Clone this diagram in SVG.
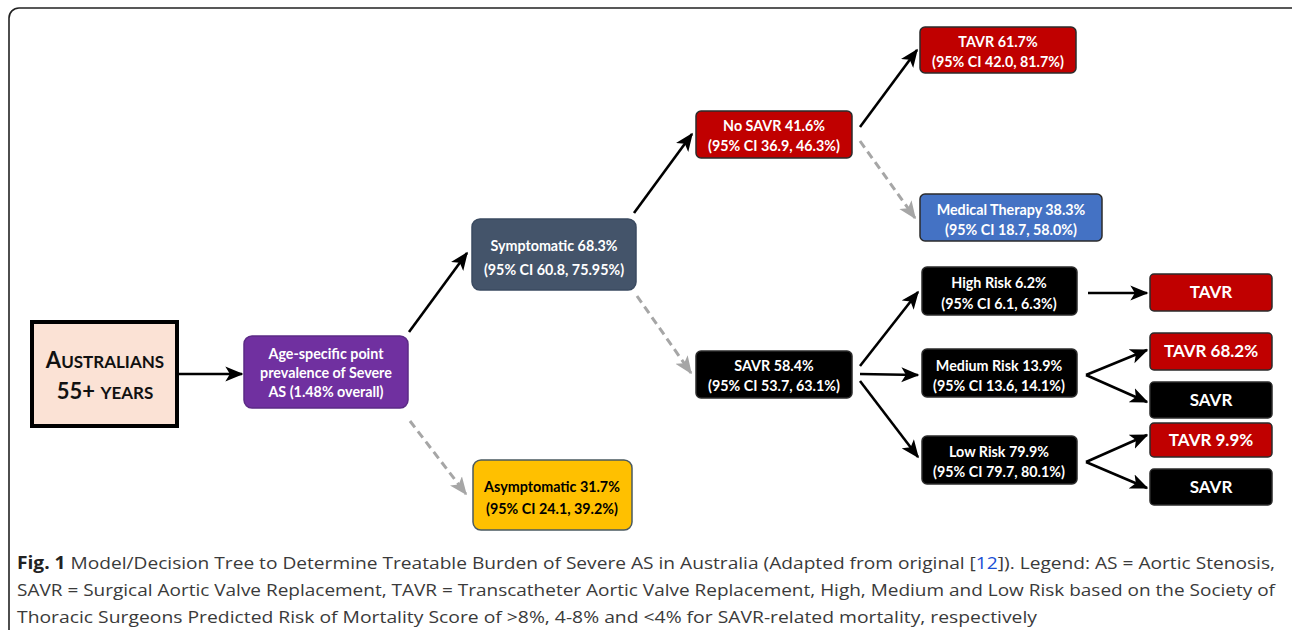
<svg xmlns="http://www.w3.org/2000/svg" width="1292" height="630" viewBox="0 0 1292 630">
<style>
.nt{font-family:Lato,"Open Sans","Liberation Sans",sans-serif;font-weight:bold;font-size:14.3px;fill:#fff;text-anchor:middle}
.big{font-size:17px}
.dk{fill:#000}
.box{stroke:#2b2b2b;stroke-width:1.5}
.sol{stroke:#000;stroke-width:2.6;fill:none;marker-end:url(#ah)}
.dash{stroke:#a6a6a6;stroke-width:3;fill:none;stroke-dasharray:8 5;marker-end:url(#ahg)}
.cap{font-family:"Open Sans","Liberation Sans",sans-serif;font-size:17px;fill:#3a3a3a}
</style>
<defs>
<marker id="ah" viewBox="0 0 12 10" refX="11" refY="5" markerWidth="7" markerHeight="6" orient="auto" markerUnits="strokeWidth">
<path d="M0,0 L12,5 L0,10 L3,5 z" fill="#000"/>
</marker>
<marker id="ahg" viewBox="0 0 12 10" refX="11" refY="5" markerWidth="6" markerHeight="5.5" orient="auto" markerUnits="strokeWidth">
<path d="M0,0 L12,5 L0,10 L3,5 z" fill="#a6a6a6"/>
</marker>
</defs>
<rect width="1292" height="630" fill="#fff"/>
<rect x="9" y="8" width="1300" height="640" rx="10" fill="none" stroke="#222" stroke-width="1.6"/>

<g id="connectors">
<line class="sol" x1="178" y1="374" x2="242" y2="374"/>
<line class="sol" x1="409" y1="332" x2="467" y2="253"/>
<line class="dash" x1="410" y1="421" x2="466" y2="494"/>
<line class="sol" x1="634" y1="213" x2="692" y2="134"/>
<line class="dash" x1="637" y1="296" x2="691" y2="373"/>
<line class="sol" x1="860" y1="127" x2="917" y2="50"/>
<line class="dash" x1="860" y1="141" x2="915" y2="218"/>
<line class="sol" x1="860" y1="366" x2="918" y2="292"/>
<line class="sol" x1="860" y1="374" x2="918" y2="375"/>
<line class="sol" x1="860" y1="381" x2="918" y2="457"/>
<line class="sol" x1="1088" y1="293" x2="1147" y2="293"/>
<line class="sol" x1="1086" y1="375" x2="1147" y2="350"/>
<line class="sol" x1="1086" y1="375" x2="1147" y2="402"/>
<line class="sol" x1="1086" y1="462" x2="1147" y2="435"/>
<line class="sol" x1="1086" y1="462" x2="1147" y2="488"/>
</g>

<g id="australians">
<rect x="32" y="322" width="145" height="104" fill="#fbe2d5" stroke="#000" stroke-width="4"/>
<text x="105" y="368" text-anchor="middle" font-family="Lato,'Open Sans',sans-serif" font-weight="bold" fill="#111"><tspan font-size="22">A</tspan><tspan font-size="17">USTRALIANS</tspan></text>
<text x="105" y="399" text-anchor="middle" font-family="Lato,'Open Sans',sans-serif" font-weight="bold" fill="#111"><tspan font-size="22">55+ </tspan><tspan font-size="17">YEARS</tspan></text>
</g>

<g id="prevalence">
<rect x="244" y="336" width="164" height="72" rx="8" fill="#7030a0" stroke="#5b2a85" stroke-width="1.5"/>
<text class="nt" x="326" y="359">Age-specific point</text>
<text class="nt" x="326" y="378">prevalence of Severe</text>
<text class="nt" x="326" y="397">AS (1.48% overall)</text>
</g>

<g id="symptomatic">
<rect x="472" y="219" width="164" height="71" rx="8" fill="#44546a" stroke="#3a4a60" stroke-width="1.5"/>
<text class="nt" x="554" y="251">Symptomatic 68.3%</text>
<text class="nt" x="554" y="275">(95% CI 60.8, 75.95%)</text>
</g>

<g id="asymptomatic">
<rect x="473" y="460" width="159" height="70" rx="8" fill="#ffc000" stroke="#4a5a60" stroke-width="1.5"/>
<text class="nt dk" x="552" y="492">Asymptomatic 31.7%</text>
<text class="nt dk" x="552" y="514">(95% CI 24.1, 39.2%)</text>
</g>

<g id="nosavr">
<rect x="696" y="111" width="156" height="47" rx="5" fill="#c00000" class="box"/>
<text class="nt" x="774" y="131">No SAVR 41.6%</text>
<text class="nt" x="774" y="151">(95% CI 36.9, 46.3%)</text>
</g>

<g id="savr584">
<rect x="696" y="351" width="156" height="47" rx="5" fill="#000" class="box"/>
<text class="nt" x="774" y="371">SAVR 58.4%</text>
<text class="nt" x="774" y="391">(95% CI 53.7, 63.1%)</text>
</g>

<g id="tavr617">
<rect x="920" y="27" width="156" height="46" rx="5" fill="#c00000" class="box"/>
<text class="nt" x="998" y="47">TAVR 61.7%</text>
<text class="nt" x="998" y="67">(95% CI 42.0, 81.7%)</text>
</g>

<g id="medical">
<rect x="920" y="194" width="182" height="47" rx="5" fill="#4472c4" class="box"/>
<text class="nt" x="1011" y="215">Medical Therapy 38.3%</text>
<text class="nt" x="1011" y="235">(95% CI 18.7, 58.0%)</text>
</g>

<g id="highrisk">
<rect x="922" y="267" width="155" height="48" rx="5" fill="#000" class="box"/>
<text class="nt" x="999" y="288">High Risk 6.2%</text>
<text class="nt" x="999" y="309">(95% CI 6.1, 6.3%)</text>
</g>

<g id="mediumrisk">
<rect x="922" y="349" width="155" height="48" rx="5" fill="#000" class="box"/>
<text class="nt" x="999" y="371">Medium Risk 13.9%</text>
<text class="nt" x="999" y="391">(95% CI 13.6, 14.1%)</text>
</g>

<g id="lowrisk">
<rect x="922" y="436" width="155" height="48" rx="5" fill="#000" class="box"/>
<text class="nt" x="999" y="457">Low Risk 79.9%</text>
<text class="nt" x="999" y="477">(95% CI 79.7, 80.1%)</text>
</g>

<g id="tavr-high">
<rect x="1150" y="274" width="122" height="37" rx="4" fill="#c00000" class="box"/>
<text class="nt big" x="1211" y="298">TAVR</text>
</g>

<g id="tavr-medium">
<rect x="1150" y="333" width="122" height="37" rx="4" fill="#c00000" class="box"/>
<text class="nt big" x="1211" y="357">TAVR 68.2%</text>
</g>

<g id="savr-medium">
<rect x="1150" y="382" width="122" height="36" rx="4" fill="#000" class="box"/>
<text class="nt big" x="1211" y="406">SAVR</text>
</g>

<g id="tavr-low">
<rect x="1150" y="423" width="122" height="34" rx="4" fill="#c00000" class="box"/>
<text class="nt big" x="1211" y="446">TAVR 9.9%</text>
</g>

<g id="savr-low">
<rect x="1150" y="469" width="122" height="36" rx="4" fill="#000" class="box"/>
<text class="nt big" x="1211" y="493">SAVR</text>
</g>

<g id="caption">
<text class="cap" x="17" y="569" textLength="1258" lengthAdjust="spacingAndGlyphs"><tspan font-weight="bold" fill="#222">Fig. 1</tspan> Model/Decision Tree to Determine Treatable Burden of Severe AS in Australia (Adapted from original [<tspan fill="#1a4fd6">12</tspan>]). Legend: AS = Aortic Stenosis,</text>
<text class="cap" x="17" y="596" textLength="1258" lengthAdjust="spacingAndGlyphs">SAVR = Surgical Aortic Valve Replacement, TAVR = Transcatheter Aortic Valve Replacement, High, Medium and Low Risk based on the Society of</text>
<text class="cap" x="17" y="623" textLength="1020" lengthAdjust="spacingAndGlyphs">Thoracic Surgeons Predicted Risk of Mortality Score of &gt;8%, 4-8% and &lt;4% for SAVR-related mortality, respectively</text>
</g>
</svg>
